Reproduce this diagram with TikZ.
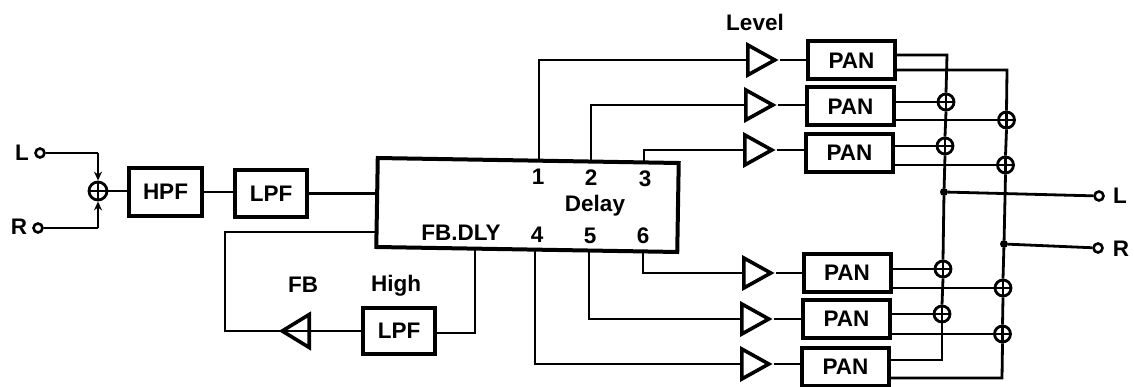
\documentclass[tikz,border=0pt]{standalone}
\usepackage{fontspec}
\setmainfont{Liberation Sans}
\usetikzlibrary{shapes.geometric,arrows.meta}
\tikzset{
  wire/.style={line width=2.8pt,line join=miter},
  blockbox/.style={draw,line width=4pt,inner sep=0pt,font=\fontsize{22.5}{22.5}\selectfont\bfseries},
  panbox/.style={blockbox,minimum width=87pt,minimum height=38pt},
  filt/.style={blockbox,minimum width=72pt,minimum height=47pt},
  delaybox/.style={draw,line width=4pt,minimum width=301pt,minimum height=89pt,rotate=-0.95,inner sep=0pt},
  lab/.style={inner sep=0pt,font=\fontsize{22.5}{22.5}\selectfont\bfseries},
  amp/.style={draw,line width=3.6pt,shape=isosceles triangle,isosceles triangle stretches,minimum height=27pt,minimum width=30pt,inner sep=0pt,anchor=west},
  ampl/.style={amp,shape border rotate=180,anchor=east,minimum width=33pt,minimum height=27pt},
  sumj/.style={draw,circle,line width=2.8pt,minimum size=16pt,inner sep=0pt,
    path picture={\draw[line width=2.4pt] (path picture bounding box.north)--(path picture bounding box.south)
      (path picture bounding box.west)--(path picture bounding box.east);}},
  term/.style={draw,circle,line width=2.6pt,minimum size=9pt,inner sep=0pt},
  jdot/.style={fill,circle,minimum size=8pt,inner sep=0pt},
  tip/.style={-{Stealth[length=9pt,width=8pt]}}
}
\begin{document}
\begin{tikzpicture}[x=1pt,y=-1pt]
\useasboundingbox (0,0) rectangle (1134,387);
% inputs
\node[lab] (tL) at (22,153) {L};
\node[lab] (tR) at (19,227) {R};
\node[term] (inL) at (40,153) {};
\node[term] (inR) at (38,228) {};
\node[sumj,minimum size=18pt] (sumin) at (98,191) {};
\node[filt,minimum width=73pt,minimum height=48pt] (hpf) at (165.5,192) {HPF};
\node[filt] (lpf) at (271,193.5) {LPF};
\node[delaybox] (delay) at (527.5,205) {};
\node[lab] at (538,177) {1};
\node[lab] at (591,178) {2};
\node[lab] at (645,179) {3};
\node[lab] at (595,206) {Delay};
\node[lab] at (461,233) {FB.DLY};
\node[lab] at (537,235) {4};
\node[lab] at (590,236) {5};
\node[lab] at (643,236) {6};
\coordinate (dFbOut) at (377,232);
\coordinate (p1) at (539,160.7);
\coordinate (p2) at (591,161.6);
\coordinate (p3) at (644,162.4);
\coordinate (p4) at (535,250);
\coordinate (p5) at (589,251);
\coordinate (p6) at (643,251.5);
\coordinate (pf) at (475,249);
% feedback
\node[filt,minimum height=46pt] (lpfb) at (399,331) {LPF};
\node[ampl] (ampfb) at (311,331) {};
\node[lab] at (303,285) {FB};
\node[lab] at (396,286) {High};
\coordinate (fbA) at (475,333);
\coordinate (fbB) at (225,331);
\coordinate (fbC) at (225,232);
\draw[wire] (inL) -- (98,153) coordinate (cL);
\draw[wire] (inR) -- (98,228) coordinate (cR);
\draw[wire,tip] (cL) -- (sumin.north);
\draw[wire,tip] (cR) -- (sumin.south);
\draw[wire] (sumin.east) -- (hpf.west |- sumin.east);
\draw[wire] (hpf.east) -- (lpf.west |- hpf.east);
\draw[wire] (lpf.east) -- (377,193.5) coordinate (dIn);
\draw[wire] (pf) -- (fbA) -- (lpfb.east |- fbA);
\draw[wire] (lpfb.west) -- (ampfb.west);
\draw[wire] (ampfb.east) -- (fbB) -- (fbC) -- (dFbOut);
% level amps and pans
\node[lab] at (755,22) {Level};
\node[amp] (a1) at (746,60) {};
\node[amp] (a2) at (744,105) {};
\node[amp] (a3) at (743,150) {};
\node[amp] (a4) at (742,273) {};
\node[amp] (a5) at (740,319) {};
\node[amp] (a6) at (740,364) {};
\node[panbox] (pan1) at (851.5,60.5) {PAN};
\node[panbox] (pan2) at (850.5,106.5) {PAN};
\node[panbox] (pan3) at (849.5,153) {PAN};
\node[panbox] (pan4) at (847,273) {PAN};
\node[panbox] (pan5) at (846.5,319) {PAN};
\node[panbox] (pan6) at (845.5,366.5) {PAN};
\draw[wire] (p1) |- (a1.west);
\draw[wire] (p2) |- (a2.west);
\draw[wire] (p3) |- (a3.west);
\draw[wire] (p6) |- (a4.west);
\draw[wire] (p5) |- (a5.west);
\draw[wire] (p4) |- (a6.west);
\foreach \i in {1,...,6}{\draw[wire] (a\i.east) -- (pan\i.west |- a\i.east);}
% sums
\node[sumj] (s1) at (946,102) {};
\node[sumj] (s2) at (945,146) {};
\node[sumj] (s3) at (943,269) {};
\node[sumj] (s4) at (942,314) {};
\node[sumj] (r1) at (1006.5,120) {};
\node[sumj] (r2) at (1005.5,165) {};
\node[sumj] (r3) at (1003,288) {};
\node[sumj] (r4) at (1002.5,334) {};
\node[jdot] (jL) at (944,192) {};
\node[jdot] (jR) at (1004,244) {};
\node[term] (outL) at (1099,196) {};
\node[term] (outR) at (1098,248) {};
\node[lab] at (1120,196) {L};
\node[lab] at (1121,249) {R};
\coordinate (bl1) at (947,55);
\coordinate (bl2) at (942,360);
\coordinate (br1) at (1007,70);
\coordinate (br2) at (1002,378);
% buses
\draw[wire] (pan1.east |- bl1) -- (bl1) -- (s1.north);
\draw[wire] (s1.south) -- (s2.north);
\draw[wire] (s2.south) -- (jL) -- (s3.north);
\draw[wire] (s3.south) -- (s4.north);
\draw[wire] (s4.south) -- (bl2) -- (pan6.east |- bl2);
\draw[wire] (pan1.east |- br1) -- (br1) -- (r1.north);
\draw[wire] (r1.south) -- (r2.north);
\draw[wire] (r2.south) -- (jR) -- (r3.north);
\draw[wire] (r3.south) -- (r4.north);
\draw[wire] (r4.south) -- (br2) -- (pan6.east |- br2);
% pan outputs
\draw[wire] (pan2.east |- s1) -- (s1.west);
\draw[wire] (pan3.east |- s2) -- (s2.west);
\draw[wire] (pan4.east |- s3) -- (s3.west);
\draw[wire] (pan5.east |- s4) -- (s4.west);
\draw[wire] (pan2.east |- r1) -- (r1.west);
\draw[wire] (pan3.east |- r2) -- (r2.west);
\draw[wire] (pan4.east |- r3) -- (r3.west);
\draw[wire] (pan5.east |- r4) -- (r4.west);
\draw[wire] (jL) -- (outL);
\draw[wire] (jR) -- (outR);
\end{tikzpicture}
\end{document}
